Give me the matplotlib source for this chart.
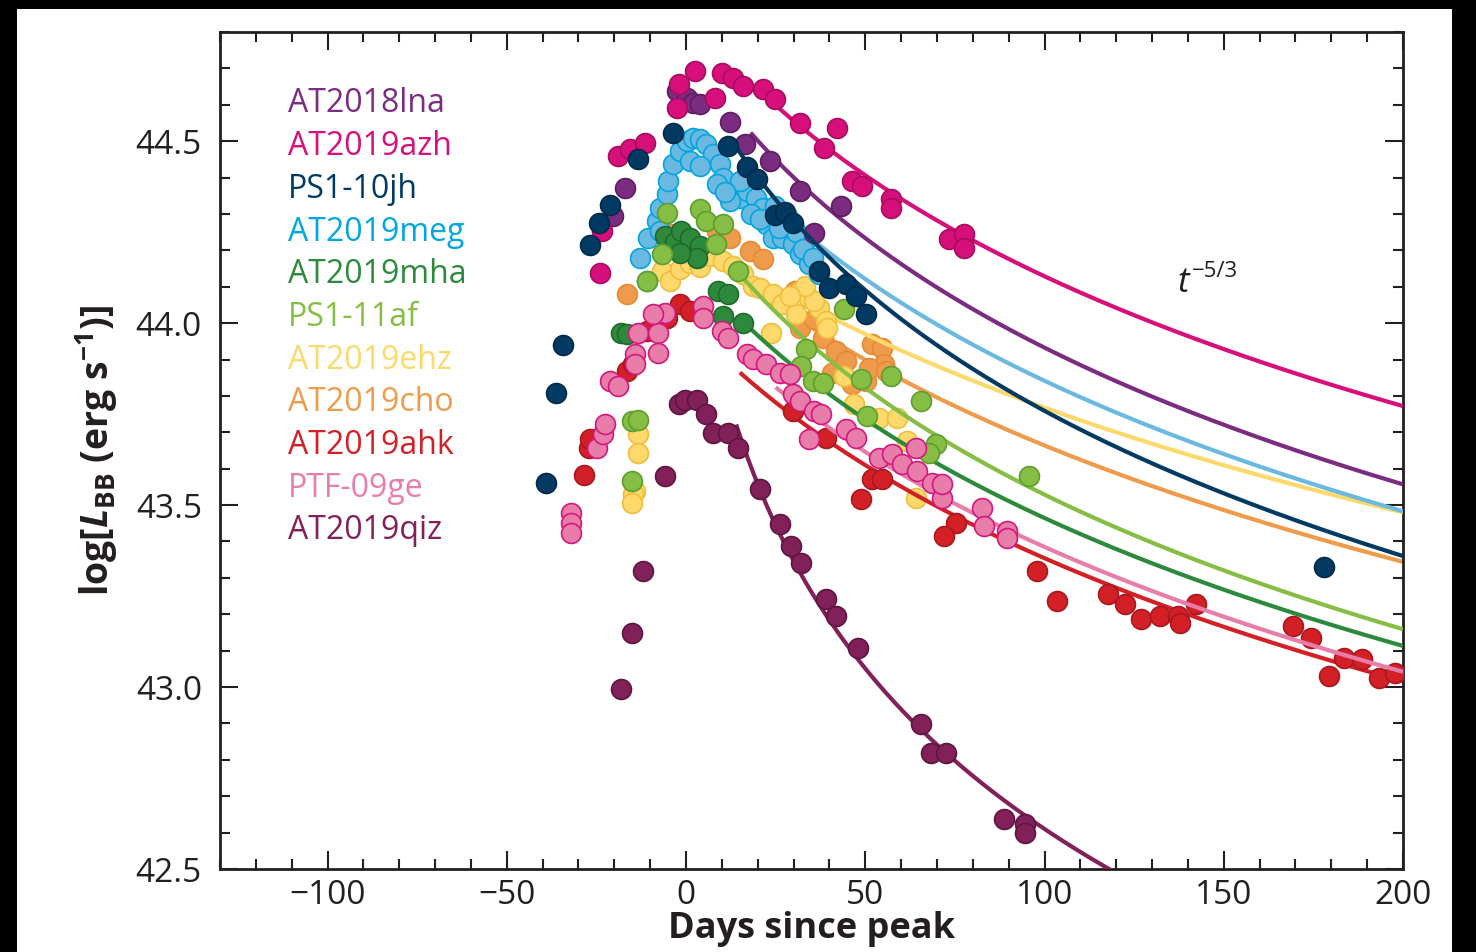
import numpy as np
import matplotlib.pyplot as plt
from matplotlib.patches import Rectangle
from matplotlib.ticker import MultipleLocator

plt.rcParams['font.family'] = ['Open Sans', 'DejaVu Sans']
plt.rcParams['mathtext.fontset'] = 'custom'
plt.rcParams['mathtext.rm'] = 'Open Sans:bold'
plt.rcParams['mathtext.it'] = 'Open Sans:bold:italic'
plt.rcParams['mathtext.bf'] = 'Open Sans:bold'

names = ['AT2018lna', 'AT2019azh', 'PS1-10jh', 'AT2019meg', 'AT2019mha', 'PS1-11af',
         'AT2019ehz', 'AT2019cho', 'AT2019ahk', 'PTF-09ge', 'AT2019qiz']

# days since peak / log L_BB for each event
days_lna = [-20.3, -16.9, -2.6, 0.2, 1.9, 3.9, 12.2, 16.4, 23.3, 31.7, 35.8, 43.3]
logl_lna = [44.294, 44.371, 44.637, 44.619, 44.604, 44.602, 44.552, 44.492, 44.445,
            44.363, 44.248, 44.321]

days_azh = [-23.9, -23.4, -18.9, -15.6, -11.4, -2.6, -2.1, 2.5, 8.1, 9.9, 13.1, 15.8,
            21.4, 24.7, 31.7, 38.6, 42.2, 46.4, 49.2, 57.1, 57.1, 73.3, 77.5, 77.5]
logl_azh = [44.138, 44.253, 44.459, 44.478, 44.495, 44.591, 44.656, 44.692, 44.619,
            44.688, 44.674, 44.651, 44.643, 44.615, 44.550, 44.482, 44.537, 44.390,
            44.376, 44.341, 44.317, 44.231, 44.245, 44.207]

days_10jh = [-39.2, -36.4, -34.2, -26.7, -24.4, -21.1, -13.3, -3.6, 11.7, 16.9, 19.7,
             24.9, 27.5, 29.7, 37.2, 40.0, 44.6, 47.4, 50.2, 178.0]
logl_10jh = [43.560, 43.808, 43.940, 44.214, 44.275, 44.324, 44.451, 44.522, 44.486,
             44.428, 44.396, 44.298, 44.305, 44.275, 44.143, 44.096, 44.107, 44.074,
             44.025, 43.330]

days_meg = [-10.9, -12.8, -10.6, -8.1, -7.2, -5.4, -5.0, -3.6, -1.7, 0.2, 1.9, 3.9, 5.7,
            7.5, 9.4, 10.3, 13.1, 15.0, 16.9, 19.6, 21.4, 22.4, 24.2, 26.9, 29.7, 31.7,
            34.4, 37.2, 1.1, 3.9, 12.2, 15.0, 8.5, -7.2, 24.7, 33.1, 28.3, 30.8, 32.6,
            18.0, 20.5, 26.0, 35.5, 11.0]
logl_meg = [44.115, 44.179, 44.234, 44.280, 44.317, 44.354, 44.390, 44.437, 44.473,
            44.500, 44.509, 44.505, 44.492, 44.464, 44.437, 44.399, 44.363, 44.344,
            44.363, 44.344, 44.317, 44.272, 44.234, 44.234, 44.217, 44.190, 44.162,
            44.135, 44.445, 44.431, 44.335, 44.390, 44.382, 44.253, 44.321, 44.225,
            44.294, 44.250, 44.205, 44.300, 44.285, 44.262, 44.180, 44.360]

days_mha = [-18.2, -16.6, -5.8, -3.1, -1.4, 1.2, 3.9, 3.0, -1.7, 8.9, 11.7, 10.4, 15.9]
logl_mha = [43.974, 43.970, 44.239, 44.222, 44.253, 44.235, 44.212, 44.179, 44.193,
            44.088, 44.080, 44.019, 44.001]

days_11af = [-15.0, -13.3, -15.1, -10.9, -5.4, -6.8, 3.9, 5.7, 10.3, 8.3, 14.4, 44.2,
             33.5, 32.1, 35.3, 38.1, 48.8, 57.1, 65.5, 50.6, 69.6, 67.8, 95.6]
logl_11af = [43.731, 43.735, 43.566, 44.115, 44.303, 44.190, 44.313, 44.280, 44.272,
             44.217, 44.143, 44.038, 43.928, 43.882, 43.841, 43.836, 43.846, 43.854,
             43.786, 43.745, 43.668, 43.644, 43.580]

days_ehz = [-13.3, -13.3, -14.2, -14.7, -15.1, -6.7, -4.4, -1.7, 1.1, 3.9, 6.7, 10.3,
            13.1, 15.8, 18.6, 20.6, 24.2, 26.9, 30.8, 31.7, 34.4, 37.2, 39.1, 39.4, 23.8,
            44.2, 46.9, 53.9, 58.9, 61.7, 64.1, 35.8, 33.1, 28.9]
logl_ehz = [43.695, 43.644, 43.538, 43.530, 43.506, 44.143, 44.115, 44.148, 44.165,
            44.154, 44.184, 44.170, 44.157, 44.135, 44.102, 44.096, 44.080, 44.052,
            44.025, 44.088, 44.069, 44.041, 44.005, 43.986, 43.973, 43.854, 43.777,
            43.740, 43.740, 43.676, 43.520, 44.060, 44.102, 44.074]

days_cho = [-16.5, -4.4, 1.1, 8.5, 12.2, 17.8, 21.4, 26.1, 31.7, 38.1, 41.9, 44.6, 40.8,
            50.2, 51.9, 54.7, 55.3, 46.4, 51.1, 55.7, 35.8, 30.3]
logl_cho = [44.079, 44.245, 44.225, 44.253, 44.234, 44.198, 44.176, 44.060, 43.986,
            43.959, 43.923, 43.896, 43.863, 43.841, 43.942, 43.931, 43.887, 43.832,
            43.876, 43.868, 44.011, 44.088]

days_ahk = [-28.5, -27.2, -26.7, -16.5, -14.7, -10.9, -5.4, -1.7, 1.1, 29.8, 39.1,
            51.9, 54.7, 48.8, 75.2, 71.9, 97.9, 103.4, 117.8, 122.4, 127.0, 132.1,
            137.2, 137.7, 142.3, 169.2, 174.3, 179.4, 183.5, 188.6, 193.2, 197.9]
logl_ahk = [43.584, 43.657, 43.681, 43.868, 43.887, 43.978, 44.015, 44.052, 44.033,
            43.758, 43.685, 43.571, 43.571, 43.516, 43.451, 43.415, 43.319, 43.236,
            43.255, 43.227, 43.186, 43.195, 43.195, 43.177, 43.227, 43.168, 43.136,
            43.030, 43.080, 43.076, 43.026, 43.039]

days_09ge = [-32.2, -32.2, -32.2, -24.8, -23.1, -22.5, -21.1, -18.9, -14.2, -14.2,
             -13.3, -7.8, -7.8, -5.8, -9.2, 4.7, 4.7, 9.9, 11.7, 16.9, 18.6, 22.4, 26.1,
             28.9, 29.7, 31.7, 35.8, 37.7, 34.4, 44.6, 47.4, 53.9, 57.5, 60.3, 64.4,
             64.1, 68.6, 71.4, 71.5, 82.5, 83.1, 89.5, 89.5]
logl_09ge = [43.479, 43.451, 43.424, 43.657, 43.695, 43.723, 43.841, 43.827, 43.915,
             43.887, 43.973, 43.973, 43.918, 44.028, 44.025, 44.047, 44.015, 43.978,
             43.960, 43.915, 43.901, 43.887, 43.863, 43.860, 43.805, 43.786, 43.758,
             43.750, 43.681, 43.709, 43.685, 43.630, 43.640, 43.613, 43.593, 43.657,
             43.561, 43.520, 43.557, 43.493, 43.442, 43.429, 43.410]

days_qiz = [-18.1, -15.0, -11.9, -5.8, -2.1, -0.3, 3.0, 5.7, 7.6, 11.8, 14.5, 20.6, 26.1,
            29.4, 32.1, 39.1, 41.9, 47.9, 65.5, 68.3, 72.4, 88.6, 94.6, 94.6]
logl_qiz = [42.995, 43.148, 43.319, 43.580, 43.777, 43.790, 43.790, 43.749, 43.699,
            43.699, 43.657, 43.543, 43.447, 43.387, 43.342, 43.241, 43.195, 43.108,
            42.898, 42.820, 42.820, 42.637, 42.623, 42.600]

days = [days_lna, days_azh, days_10jh, days_meg, days_mha, days_11af,
        days_ehz, days_cho, days_ahk, days_09ge, days_qiz]
logl = [logl_lna, logl_azh, logl_10jh, logl_meg, logl_mha, logl_11af,
        logl_ehz, logl_cho, logl_ahk, logl_09ge, logl_qiz]

# t^-5/3 fits: first day drawn, t0, and log L at a reference day
fit_start = [18, 23, 13, 20, 16, 14, 25, 30, 15, 25, 14]
fit_t0 = [-47, -57, -36, -56, -60, -50, -105, -80, -68, -65, -9.6]
fit_tref = [200, 200, 200, 200, 200, 200, 200, 200, 200, 200, 20.6]
fit_lref = [43.557, 43.772, 43.360, 43.483, 43.113, 43.159, 43.480, 43.344, 43.016,
            43.042, 43.543]

face = ['#7b2c80', '#d60f7a', '#003a63', '#6bb9e0', '#2d8a3c', '#86bd45',
        '#fcd96a', '#ef9b4c', '#d32027', '#e87daa', '#82205a']
edge = ['#5b1e60', '#a80c60', '#002a48', '#00a6df', '#1f6a2b', '#5e9e2e',
        '#f0be3c', '#e88a35', '#a8181e', '#d4177e', '#5e1640']
text_col = ['#7b2c80', '#d60f7a', '#003a63', '#00a6df', '#2d8a3c', '#86bd45',
            '#fcd96a', '#ef9b4c', '#d32027', '#e87daa', '#82205a']

# drawing order (bottom to top)
order = [7, 6, 3, 4, 5, 8, 9, 0, 1, 2, 10]

fig = plt.figure(figsize=(14.76, 9.52), dpi=100, facecolor='black')
fig.patches.append(Rectangle((17 / 1476, 0), (1452 - 17) / 1476, (952 - 9) / 952,
                             transform=fig.transFigure, facecolor='white',
                             edgecolor='none', zorder=-10))
ax = fig.add_axes([220 / 1476, (952 - 869) / 952, (1403 - 220) / 1476, (869 - 32) / 952])

for k, i in enumerate(order):
    t = np.linspace(fit_start[i], 200, 300)
    y = fit_lref[i] + 5 / 3 * np.log10((fit_tref[i] - fit_t0[i]) / (t - fit_t0[i]))
    ax.plot(t, y, color=face[i], lw=3.0, zorder=2 + 2 * k, solid_capstyle='butt')
    ax.scatter(days[i], logl[i], s=205, facecolor=face[i], edgecolor=edge[i],
               linewidth=1.2, zorder=3 + 2 * k)

ax.set_xlim(-130, 200)
ax.set_ylim(42.5, 44.8)
ax.xaxis.set_minor_locator(MultipleLocator(10))
ax.yaxis.set_minor_locator(MultipleLocator(0.1))
ax.set_xticks([-100, -50, 0, 50, 100, 150, 200])
ax.set_xticklabels(['\u2212100', '\u221250', '0', '50', '100', '150', '200'])
ax.set_yticks([42.5, 43.0, 43.5, 44.0, 44.5])
ax.set_yticklabels(['42.5', '43.0', '43.5', '44.0', '44.5'])
ax.tick_params(which='both', direction='in', top=True, right=True, labelsize=24,
               colors='#231f20', width=1.5)
ax.tick_params(which='major', length=13)
ax.tick_params(which='minor', length=7)
ax.tick_params(axis='x', which='major', pad=7)
ax.tick_params(axis='y', which='major', pad=13)
for sp in ax.spines.values():
    sp.set_linewidth(2)
    sp.set_color('#231f20')

for i, name in enumerate(names):
    ax.text(0.0575, 0.914 - 0.0510 * i, name, transform=ax.transAxes, color=text_col[i],
            fontsize=23, ha='left', va='center')

ax.text(137, 44.085, 't', fontsize=25, style='italic', color='#231f20', va='baseline')
ax.text(141.2, 44.128, '\u22125/3', fontsize=16, color='#231f20', va='baseline')

fig.text(0.5 * (220 + 1403) / 1476, 1 - 929 / 952, 'Days since peak', fontsize=26,
         fontweight='bold', ha='center', va='center', color='#231f20')
fig.text(97 / 1476, 1 - 450 / 952, r'log[$L_{\mathrm{BB}}$ (erg s$^{-1}$)]',
         fontsize=27, fontweight='bold', rotation=90, ha='center', va='center',
         color='#231f20')

fig.savefig('out.png', dpi=100, facecolor='black')
